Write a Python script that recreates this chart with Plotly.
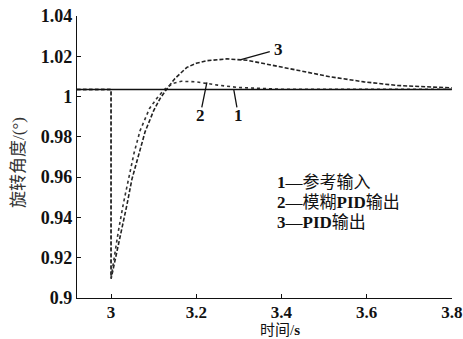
import plotly.graph_objects as go

# reference input
t_ref = [2.92, 3.8]
y_ref = [1.0035, 1.0035]

# fuzzy PID output (dotted)
t_fuzzy = [2.92, 3.0, 3.0, 3.008, 3.017, 3.029, 3.041, 3.054, 3.068, 3.09, 3.107, 3.125, 3.145, 3.165, 3.2, 3.25, 3.3, 3.35, 3.4, 3.8]
y_fuzzy = [1.0035, 1.0035, 0.910, 0.922, 0.933, 0.947, 0.959, 0.972, 0.983, 0.994, 0.999, 1.0035, 1.0065, 1.0076, 1.0073, 1.0057, 1.0045, 1.0039, 1.0036, 1.0036]

# PID output (dashed)
t_pid = [2.92, 3.0, 3.0, 3.012, 3.025, 3.037, 3.049, 3.064, 3.08, 3.1, 3.115, 3.13, 3.15, 3.178, 3.2, 3.225, 3.272, 3.32, 3.37, 3.437, 3.515, 3.594, 3.672, 3.75, 3.8]
y_pid = [1.0035, 1.0035, 0.9095, 0.921, 0.933, 0.946, 0.959, 0.971, 0.9826, 0.993, 0.999, 1.0035, 1.009, 1.0145, 1.0165, 1.0178, 1.0187, 1.018, 1.016, 1.0131, 1.0098, 1.0073, 1.0055, 1.0046, 1.0043]

x_ticks = [3, 3.2, 3.4, 3.6, 3.8]
x_ticktext = ["3", "3.2", "3.4", "3.6", "3.8"]
y_ticks = [0.9, 0.92, 0.94, 0.96, 0.98, 1.0, 1.02, 1.04]
y_ticktext = ["0.9", "0.92", "0.94", "0.96", "0.98", "1", "1.02", "1.04"]

legend_lines = ["<b>1</b>—参考输入", "<b>2</b>—模糊<b>PID</b>输出", "<b>3</b>—<b>PID</b>输出"]
curve_labels = ["1", "2", "3"]

serif = "'Liberation Serif', 'DejaVu Serif', serif"
cjk = "'Liberation Serif', 'Noto Sans CJK SC', sans-serif"

fig = go.Figure()
fig.add_trace(go.Scatter(x=t_pid, y=y_pid, mode="lines",
                         line=dict(color="#222", width=1.6, dash="4px,2px")))
fig.add_trace(go.Scatter(x=t_fuzzy, y=y_fuzzy, mode="lines",
                         line=dict(color="#333", width=1.6, dash="dot")))
fig.add_trace(go.Scatter(x=t_ref, y=y_ref, mode="lines",
                         line=dict(color="#111", width=1.6)))

# curve label callouts
label_pos = [(3.299, 0.9905, 3.288, 1.0036), (3.209, 0.9905, 3.225, 1.0071), (3.392, 1.0235, 3.305, 1.0183)]
for lab, (tx, ty, px, py) in zip(curve_labels, label_pos):
    fig.add_annotation(x=px, y=py, ax=tx, ay=ty, axref="x", ayref="y", text="",
                       showarrow=True, arrowhead=0, arrowwidth=1.3, arrowcolor="#111",
                       standoff=0, startstandoff=7)
    fig.add_annotation(x=tx, y=ty, text="<b>%s</b>" % lab, showarrow=False,
                       font=dict(family=serif, size=17, color="#111"))

for i, txt in enumerate(legend_lines):
    fig.add_annotation(xref="paper", yref="paper", x=(275 - 77) / 375, y=1 - (182 + 20 * i - 16) / 282,
                       text=txt, showarrow=False, xanchor="left", yanchor="middle",
                       font=dict(family=cjk, size=17, color="#111"))

# axis titles
fig.add_annotation(xref="paper", yref="paper", x=(280 - 77) / 375, y=-(330 - 298) / 282,
                   text="时间/<b>s</b>", showarrow=False, xanchor="center", yanchor="middle",
                   font=dict(family=cjk, size=15, color="#111"))
fig.add_annotation(xref="paper", yref="paper", x=-(77 - 18) / 375, y=1 - (163 - 16) / 282,
                   text="旋转角度/(°)", showarrow=False, textangle=-90,
                   xanchor="center", yanchor="middle",
                   font=dict(family=cjk, size=17, color="#333"))

fig.update_layout(
    width=463, height=339,
    margin=dict(l=77, r=11, t=16, b=41, autoexpand=False),
    paper_bgcolor="white", plot_bgcolor="white",
    showlegend=False,
    xaxis=dict(range=[2.92, 3.8005], tickvals=x_ticks, ticktext=x_ticktext,
               showline=True, linecolor="#111", linewidth=1.3, ticks="inside", ticklen=4,
               tickcolor="#111", showgrid=False, zeroline=False, automargin=False,
               ticklabeloverflow="allow", ticklabelstandoff=-2,
               tickfont=dict(family=serif, size=17, color="#111", weight="bold")),
    yaxis=dict(range=[0.9, 1.04], tickvals=y_ticks, ticktext=y_ticktext,
               showline=True, linecolor="#111", linewidth=1.3, ticks="inside", ticklen=4,
               tickcolor="#111", showgrid=False, zeroline=False, automargin=False,
               ticklabeloverflow="allow",
               tickfont=dict(family=serif, size=18, color="#111", weight="bold")),
)

fig.write_html("out.html", config={"displayModeBar": False},
               post_script="document.body.style.margin='0';")
